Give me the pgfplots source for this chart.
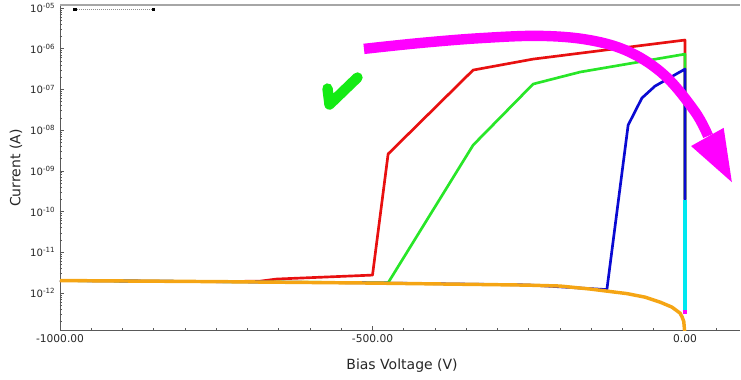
\documentclass[border=0pt]{standalone}
\usepackage{pgfplots}
\pgfplotsset{compat=1.18}
\usepackage{fontspec}
\setmainfont{DejaVu Sans}

\definecolor{ivred}{RGB}{232,16,16}
\definecolor{ivgreen}{RGB}{40,230,40}
\definecolor{ivblue}{RGB}{10,10,210}
\definecolor{ivcyan}{RGB}{0,232,240}
\definecolor{ivorange}{RGB}{245,165,20}
\definecolor{ivmagenta}{RGB}{255,0,255}
\definecolor{checkgreen}{RGB}{20,235,20}

\begin{document}
\begin{tikzpicture}
\begin{axis}[
  name=ax,
  at={(0,0)}, anchor=south west,
  scale only axis, width=510pt, height=243.75pt,
  xmin=-1000, xmax=88,
  ymode=log, ymin=1.23e-13, ymax=1.19e-5,
  axis x line*=bottom, axis y line*=left,
  axis line style={draw=black!65, line width=0.6pt},
  tick align=inside,
  tick style={black!65, line width=0.5pt},
  major tick length=3.2pt, minor tick length=1.8pt,
  xtick={-1000,-500,0},
  xticklabels={-1000.00,-500.00,0.00},
  minor xtick={-950,-900,...,50},
  ytick={1e-12,1e-11,1e-10,1e-9,1e-8,1e-7,1e-6,1e-5},
  yticklabels={10\textsuperscript{-12},10\textsuperscript{-11},10\textsuperscript{-10},10\textsuperscript{-09},10\textsuperscript{-08},10\textsuperscript{-07},10\textsuperscript{-06},10\textsuperscript{-05}},
  minor ytick={2e-13,3e-13,4e-13,5e-13,6e-13,7e-13,8e-13,9e-13,
               2e-12,3e-12,4e-12,5e-12,6e-12,7e-12,8e-12,9e-12,
               2e-11,3e-11,4e-11,5e-11,6e-11,7e-11,8e-11,9e-11,
               2e-10,3e-10,4e-10,5e-10,6e-10,7e-10,8e-10,9e-10,
               2e-9,3e-9,4e-9,5e-9,6e-9,7e-9,8e-9,9e-9,
               2e-8,3e-8,4e-8,5e-8,6e-8,7e-8,8e-8,9e-8,
               2e-7,3e-7,4e-7,5e-7,6e-7,7e-7,8e-7,9e-7,
               2e-6,3e-6,4e-6,5e-6,6e-6,7e-6,8e-6,9e-6},
  xticklabel style={font=\fontsize{8}{9}\selectfont, text=black!85},
  yticklabel style={font=\fontsize{7.6}{9}\selectfont, text=black!85},
  xlabel={Bias Voltage (V)},
  ylabel={Current (A)},
  xlabel style={font=\fontsize{10.5}{12}\selectfont, text=black!85,
                at={(axis description cs:0.503,-0.111)}, anchor=center},
  ylabel style={font=\fontsize{10.5}{12}\selectfont, text=black!85,
                at={(axis description cs:-0.0647,0.498)}, anchor=center},
]

% reference trace in the upper left corner
\addplot[black!45, densely dotted, line width=0.5pt, mark=square*, mark size=0.9pt,
         mark options={solid, black}]
  coordinates {(-976,9.45e-6) (-851,9.45e-6)};

% sweep 1
\addplot[ivred, line width=2pt, line join=round] coordinates {
  (0,2e-10) (0,1.64e-6) (-243,5.58e-7) (-339,3.0e-7) (-475,2.6e-9)
  (-500,2.75e-12) (-653,2.2e-12) (-680,1.95e-12) (-749,1.9e-12) (-1000,2.02e-12)};

% sweep 2
\addplot[ivgreen, line width=2pt, line join=round] coordinates {
  (0,2e-10) (0,7.4e-7) (-168,2.68e-7) (-243,1.36e-7) (-339,4.3e-9)
  (-475,1.78e-12) (-749,1.9e-12) (-1000,2.02e-12)};

% sweep 3
\addplot[ivblue, line width=2pt, line join=round] coordinates {
  (0,1.92e-10) (0,3.17e-7) (-48,1.21e-7) (-69,6.15e-8) (-91,1.33e-8)
  (-125,1.21e-12) (-253,1.58e-12) (-500,1.77e-12) (-1000,2.03e-12)};

% sweep 4
\addplot[ivcyan, line width=2.4pt] coordinates {(0,3.8e-13) (0,1.92e-10)};

% sweep 5
\addplot[ivmagenta, line width=2.4pt] coordinates {(0,3.0e-13) (0,3.8e-13)};

% dark current baseline
\addplot[ivorange, line width=2.6pt, line join=round] coordinates {
  (-1000,2.02e-12) (-749,1.9e-12) (-500,1.75e-12) (-253,1.56e-12)
  (-200,1.48e-12) (-152,1.25e-12) (-125,1.11e-12) (-93,9.65e-13)
  (-64,7.9e-13) (-40,5.97e-13) (-21,4.5e-13) (-8,3.2e-13)
  (-4.8,2.6e-13) (-2,2.0e-13) (0,9e-14)};

% curved arrow
\draw[ivmagenta, line width=7.8pt] plot[smooth, tension=0.6] coordinates {
  (rel axis cs:0.447,0.865) (rel axis cs:0.529,0.883) (rel axis cs:0.618,0.898)
  (rel axis cs:0.706,0.905) (rel axis cs:0.779,0.892) (rel axis cs:0.838,0.855)
  (rel axis cs:0.890,0.782) (rel axis cs:0.934,0.671) (rel axis cs:0.953,0.597)};
\fill[ivmagenta] (rel axis cs:0.928,0.566) -- (rel axis cs:0.976,0.622)
  -- (rel axis cs:0.988,0.455) -- cycle;

% check mark
\draw[checkgreen, line width=7.8pt, line cap=round, line join=round]
  (rel axis cs:0.3934,0.743) -- (rel axis cs:0.3963,0.6938) -- (rel axis cs:0.4375,0.7769);
\end{axis}
\draw[black!35, line width=1pt] (ax.north west) -- (ax.north east);
\pgfresetboundingbox
\path[use as bounding box] (-45pt,-36.75pt) rectangle (510.75pt,247.5pt);
\end{tikzpicture}
\end{document}
